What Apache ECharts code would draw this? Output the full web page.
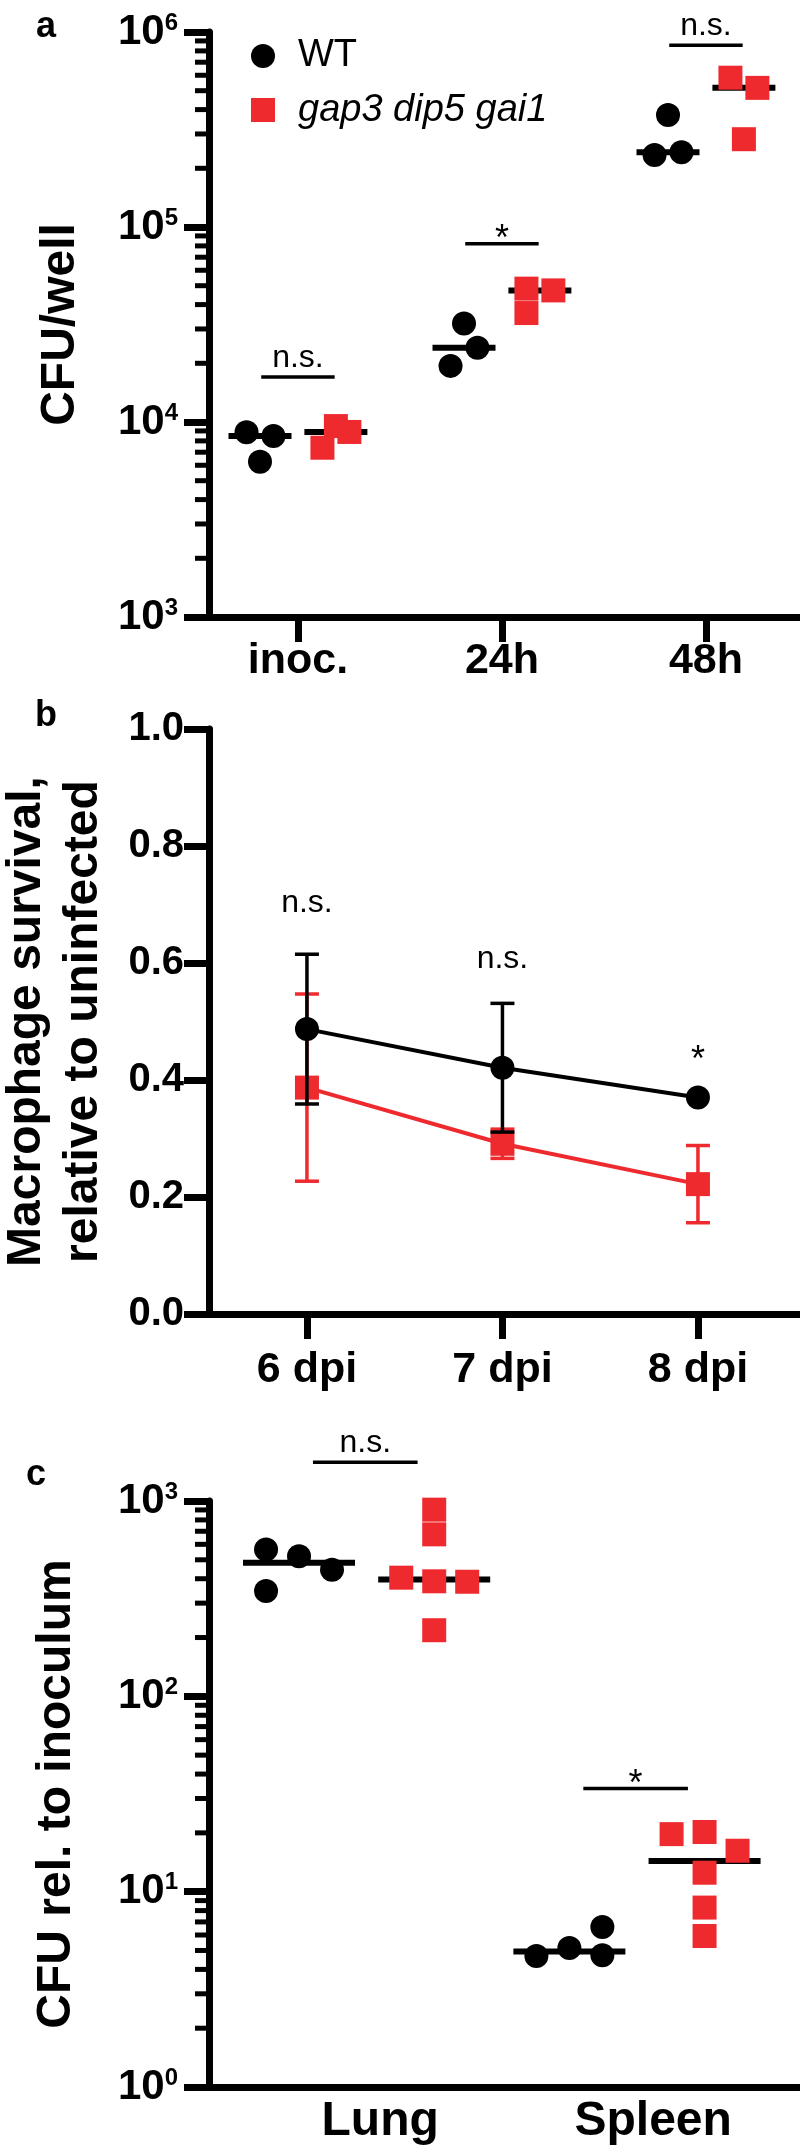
<!DOCTYPE html>
<html><head><meta charset="utf-8">
<script src="https://cdn.jsdelivr.net/npm/echarts@6/dist/echarts.min.js"></script>
<style>html,body{margin:0;padding:0;background:#fff}#c{width:800px;height:2152px}</style>
</head><body><div id="c"></div>
<script>
// ---------------- data ----------------
// panel a : CFU/well
const catsA = ['inoc.', '24h', '48h'];
const wtA = [[8860, 8480, 6250], [32000, 24000, 19400], [375000, 234000, 242000]];
const mutA = [[9530, 8890, 7380], [48300, 36200, 47300], [583000, 517000, 282000]];
const sigA = ['n.s.', '*', 'n.s.'];
const sigLevelA = [17000, 82000, 855000];
const yTicksA = [1e3, 1e4, 1e5, 1e6];

// panel b : macrophage survival (mean, error)
const catsB = ['6 dpi', '7 dpi', '8 dpi'];
const wtB = [0.487, 0.421, 0.370];
const wtErrB = [0.128, 0.110, 0];
const mutB = [0.387, 0.291, 0.222];
const mutErrB = [0.160, 0.025, 0.066];
const sigB = ['n.s.', 'n.s.', '*'];
const sigLevelB = [0.70, 0.605, 0.45];
const yTicksB = [0, 0.2, 0.4, 0.6, 0.8, 1.0];

// panel c : CFU rel. to inoculum
const catsC = ['Lung', 'Spleen'];
const wtC = [[565, 521, 445, 346], [4.69, 5.15, 4.73, 6.6]];
const mutC = [[903, 675, 405, 388, 386, 218], [19.7, 20.2, 16.2, 12.5, 8.29, 5.93]];
const sigC = ['n.s.', '*'];
const sigLevelC = [1580, 33.7];
const yTicksC = [1, 10, 100, 1000];

const seriesNames = ['WT', 'gap3 dip5 gai1'];

// ---------------- layout / style ----------------
const RED = '#ee2a2f';
const FONT = "'Liberation Sans', Arial, sans-serif";
const jitA_wt = [[-1, 1, 0], [0, 1, -1], [0, -1, 1]];
const jitA_mut = [[0, 1, -1], [-1, -1, 1], [-1, 1, 0]];
const JA = 0.066, GA = 0.186, BRA = 0.18;
const jitC_wt = [[-1, 0, 1, -1], [-1, 0, 1, 1]];
const jitC_mut = [[0, 0, -1, 0, 1, 0], [-1, 0, 1, 0, 0, 0]];
const JC = 0.244, BRC_OFF = 0.49, BRC = 0.387;
const labelPosC = [0.6, 2.62];
const X_MIN = [-0.436, -0.501, -0.666], X_MAX = [2.461, 2.522, 3.706];

function median(a) { const s = [...a].sort((x, y) => x - y); const n = s.length; return n % 2 ? s[(n - 1) / 2] : (s[n / 2 - 1] + s[n / 2]) / 2; }
function minorLog(min, max) { const out = []; for (let d = min; d < max; d *= 10) for (let m = 2; m <= 9; m++) out.push(m * d); return out; }

const lineSt = { color: '#000', width: 7 };
const bold = (fs) => ({ fontSize: fs, fontWeight: 'bold', color: '#000', fontFamily: FONT });

function sigText(t, x, cy) {
  const F = t === '*' ? 36 : 32;
  const dy = t === '*' ? 0.28 * F : -0.04 * F;
  return { type: 'text', style: { text: t, x: x, y: cy + dy, align: 'center', verticalAlign: 'middle', fontSize: F, fontFamily: FONT, fill: '#000' } };
}
function bracketSeries(xi, yi, items, hw) {
  return {
    type: 'custom', xAxisIndex: xi, yAxisIndex: yi, silent: true, z: 5,
    data: items.map(b => [b.x, b.y]),
    renderItem(params, api) {
      const x = api.value(0), y = api.value(1);
      const p1 = api.coord([x - hw, y]), p2 = api.coord([x + hw, y]);
      const t = items[params.dataIndex].t;
      return { type: 'group', children: [
        { type: 'line', shape: { x1: p1[0], y1: p1[1], x2: p2[0], y2: p2[1] }, style: { stroke: '#000', lineWidth: 3.5 } },
        sigText(t, (p1[0] + p2[0]) / 2, p1[1] - (t === '*' ? 14 : 18))
      ] };
    }
  };
}
function textSeries(xi, yi, items) {
  return {
    type: 'custom', xAxisIndex: xi, yAxisIndex: yi, silent: true, z: 5,
    data: items.map(b => [b.x, b.y]),
    renderItem(params, api) {
      const p = api.coord([api.value(0), api.value(1)]);
      return sigText(items[params.dataIndex].t, p[0], p[1]);
    }
  };
}
function errorSeries(xi, yi, means, errs, color, z) {
  return {
    type: 'custom', xAxisIndex: xi, yAxisIndex: yi, silent: true, z: z,
    data: means.map((m, i) => [i, m, errs[i]]),
    renderItem(params, api) {
      const x = api.value(0), m = api.value(1), e = api.value(2);
      if (!e) return null;
      const top = api.coord([x, m + e]), bot = api.coord([x, m - e]);
      const hw = 12, st = { stroke: color, lineWidth: 3.5 };
      return { type: 'group', children: [
        { type: 'line', shape: { x1: top[0], y1: top[1], x2: bot[0], y2: bot[1] }, style: st },
        { type: 'line', shape: { x1: top[0] - hw, y1: top[1], x2: top[0] + hw, y2: top[1] }, style: st },
        { type: 'line', shape: { x1: bot[0] - hw, y1: bot[1], x2: bot[0] + hw, y2: bot[1] }, style: st }
      ] };
    }
  };
}

const grids = [
  { left: 209, right: 0, top: 32, height: 585, outerBoundsMode: 'none' },
  { left: 209, right: 0, top: 729, height: 585, outerBoundsMode: 'none' },
  { left: 209, right: 0, top: 1501, height: 586, outerBoundsMode: 'none' },
  // thin strips just left of the log y axes, holding the minor log ticks
  { left: 195, width: 14, top: 32, height: 585, outerBoundsMode: 'none' },
  { left: 195, width: 14, top: 1501, height: 586, outerBoundsMode: 'none' }
];

function xAx(grid, tickVals, labelVals, fmt, fs, margin) {
  return {
    gridIndex: grid, type: 'value', min: X_MIN[grid], max: X_MAX[grid],
    axisLine: { show: true, onZero: false, lineStyle: lineSt },
    axisTick: tickVals ? { show: true, length: 25, lineStyle: { color: '#000', width: 7 }, customValues: tickVals } : { show: false },
    axisLabel: Object.assign({ customValues: labelVals, formatter: fmt, margin: margin }, bold(fs)),
    splitLine: { show: false }
  };
}
const supFmt = v => `{b|10}{s|${Math.round(Math.log10(v))}}`;
const supRich = { b: bold(42), s: Object.assign(bold(24), { verticalAlign: 'top' }) };
function logY(grid, min, max, ticks, name, gap) {
  return {
    gridIndex: grid, type: 'log', logBase: 10, min: min, max: max, position: 'left',
    name: name, nameLocation: 'middle', nameRotate: 90, nameGap: gap, nameTextStyle: bold(48),
    axisLine: { show: true, onZero: false, lineStyle: lineSt },
    axisTick: { show: true, length: 25, lineStyle: { color: '#000', width: 7 } },
    axisLabel: { formatter: supFmt, rich: supRich, margin: 31, showMinLabel: true, showMaxLabel: true },
    splitLine: { show: false }
  };
}
const hiddenX = g => ({ gridIndex: g, type: 'value', min: 0, max: 1, show: false });
const hiddenLogY = (g, min, max) => ({ gridIndex: g, type: 'log', logBase: 10, min: min, max: max, show: false });

const ptStyle = c => ({ color: c, opacity: 1, borderWidth: 0 });
const series = [];
// ---- panel a ----
series.push({ type: 'scatter', xAxisIndex: 0, yAxisIndex: 0, symbol: 'rect', symbolSize: [63, 6], itemStyle: ptStyle('#000'), z: 1, silent: true,
  data: catsA.map((c, i) => [i - GA, median(wtA[i])]).concat(catsA.map((c, i) => [i + GA, median(mutA[i])])) });
series.push({ type: 'scatter', name: seriesNames[1], xAxisIndex: 0, yAxisIndex: 0, symbol: 'rect', symbolSize: 24, itemStyle: ptStyle(RED), z: 2,
  data: mutA.flatMap((vals, i) => vals.map((v, k) => [i + GA + jitA_mut[i][k] * JA, v])) });
series.push({ type: 'scatter', name: seriesNames[0], xAxisIndex: 0, yAxisIndex: 0, symbol: 'circle', symbolSize: 24, itemStyle: ptStyle('#000'), z: 3,
  data: wtA.flatMap((vals, i) => vals.map((v, k) => [i - GA + jitA_wt[i][k] * JA, v])) });
series.push(bracketSeries(0, 0, sigA.map((t, i) => ({ x: i, y: sigLevelA[i], t })), BRA));

// ---- panel b ----
series.push(errorSeries(1, 1, mutB, mutErrB, RED, 1));
series.push({ type: 'line', name: seriesNames[1], xAxisIndex: 1, yAxisIndex: 1, symbol: 'rect', symbolSize: 24, showSymbol: true, z: 2,
  lineStyle: { color: RED, width: 4 }, itemStyle: ptStyle(RED), data: mutB.map((v, i) => [i, v]) });
series.push(errorSeries(1, 1, wtB, wtErrB, '#000', 3));
series.push({ type: 'line', name: seriesNames[0], xAxisIndex: 1, yAxisIndex: 1, symbol: 'circle', symbolSize: 24, showSymbol: true, z: 4,
  lineStyle: { color: '#000', width: 4 }, itemStyle: ptStyle('#000'), data: wtB.map((v, i) => [i, v]) });
series.push(textSeries(1, 1, sigB.map((t, i) => ({ x: i, y: sigLevelB[i], t }))));

// ---- panel c ----
series.push({ type: 'scatter', xAxisIndex: 2, yAxisIndex: 2, symbol: 'rect', symbolSize: [112, 6], itemStyle: ptStyle('#000'), z: 1, silent: true,
  data: catsC.map((c, i) => [2 * i, median(wtC[i])]).concat(catsC.map((c, i) => [2 * i + 1, median(mutC[i])])) });
series.push({ type: 'scatter', name: seriesNames[1], xAxisIndex: 2, yAxisIndex: 2, symbol: 'rect', symbolSize: 24, itemStyle: ptStyle(RED), z: 2,
  data: mutC.flatMap((vals, i) => vals.map((v, k) => [2 * i + 1 + jitC_mut[i][k] * JC, v])) });
series.push({ type: 'scatter', name: seriesNames[0], xAxisIndex: 2, yAxisIndex: 2, symbol: 'circle', symbolSize: 24, itemStyle: ptStyle('#000'), z: 3,
  data: wtC.flatMap((vals, i) => vals.map((v, k) => [2 * i + jitC_wt[i][k] * JC, v])) });
series.push(bracketSeries(2, 2, sigC.map((t, i) => ({ x: 2 * i + BRC_OFF, y: sigLevelC[i], t })), BRC));

// ---- minor log ticks (panels a and c) ----
series.push({ type: 'scatter', xAxisIndex: 3, yAxisIndex: 3, symbol: 'rect', symbolSize: [14, 5], itemStyle: ptStyle('#000'), z: 6, silent: true,
  clip: false, data: minorLog(1e3, 1e6).map(v => [0.5, v]) });
series.push({ type: 'scatter', xAxisIndex: 4, yAxisIndex: 4, symbol: 'rect', symbolSize: [14, 5], itemStyle: ptStyle('#000'), z: 6, silent: true,
  clip: false, data: minorLog(1, 1e3).map(v => [0.5, v]) });

const option = {
  animation: false,
  backgroundColor: '#fff',
  textStyle: { fontFamily: FONT },
  title: [
    { text: 'a', left: 36, top: 9, padding: 0, textStyle: bold(36) },
    { text: 'b', left: 35, top: 698, padding: 0, textStyle: bold(36) },
    { text: 'c', left: 26, top: 1457, padding: 0, textStyle: bold(36) }
  ],
  legend: {
    orient: 'vertical', left: 251, top: 36, padding: 0, itemWidth: 24, itemHeight: 24, itemGap: 14, selectedMode: false,
    textStyle: { fontSize: 38, color: '#000', fontFamily: FONT, lineHeight: 40, padding: [0, 0, 0, 18] },
    data: [{ name: seriesNames[0], icon: 'circle', itemStyle: { color: '#000', opacity: 1 } },
           { name: seriesNames[1], icon: 'rect', itemStyle: { color: RED, opacity: 1 }, textStyle: { fontStyle: 'italic' } }]
  },
  grid: grids,
  xAxis: [
    xAx(0, [0, 1, 2], [0, 1, 2], v => catsA[Math.round(v)], 43, 23),
    xAx(1, [0, 1, 2], [0, 1, 2], v => catsB[Math.round(v)], 43, 35),
    xAx(2, null, labelPosC, v => catsC[labelPosC.indexOf(v)], 48, 11),
    hiddenX(3),
    hiddenX(4)
  ],
  yAxis: [
    logY(0, 1e3, 1e6, yTicksA, 'CFU/well', 124),
    {
      gridIndex: 1, type: 'value', min: 0, max: 1, interval: 0.2, position: 'left',
      name: 'Macrophage survival,\nrelative to uninfected', nameLocation: 'middle', nameRotate: 90, nameGap: 97,
      nameTextStyle: Object.assign(bold(48), { lineHeight: 57 }),
      axisLine: { show: true, onZero: false, lineStyle: lineSt },
      axisTick: { show: true, length: 25, lineStyle: { color: '#000', width: 7 }, customValues: yTicksB },
      axisLabel: Object.assign({ customValues: yTicksB, formatter: v => v.toFixed(1), margin: 25 }, bold(40)),
      splitLine: { show: false }
    },
    logY(2, 1, 1e3, yTicksC, 'CFU rel. to inoculum', 128),
    hiddenLogY(3, 1e3, 1e6),
    hiddenLogY(4, 1, 1e3)
  ],
  series: series
};
const chart = echarts.init(document.getElementById('c'), null, { renderer: 'canvas', width: 800, height: 2152 });
chart.setOption(option);
</script></body></html>
